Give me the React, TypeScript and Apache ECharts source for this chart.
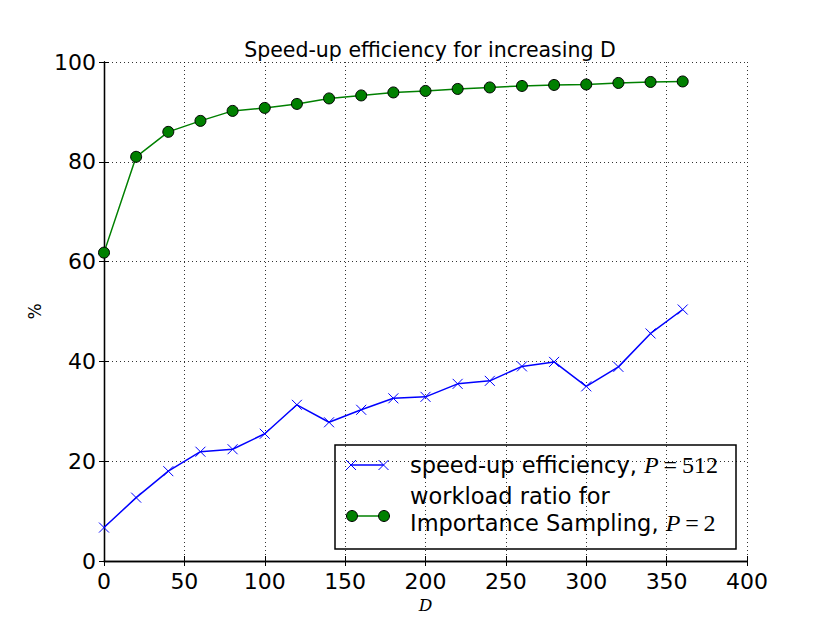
import React, { useEffect, useRef } from "react";
import * as echarts from "echarts";

const dValues = [0, 20, 40, 60, 80, 100, 120, 140, 160, 180, 200, 220, 240, 260, 280, 300, 320, 340, 360];
const speedupEfficiency = [6.7, 12.7, 18.0, 21.9, 22.4, 25.5, 31.3, 27.8, 30.3, 32.6, 32.9, 35.5, 36.1, 39.0, 39.9, 35.0, 38.9, 45.6, 50.4];
const workloadRatio = [61.8, 81.0, 86.0, 88.2, 90.2, 90.8, 91.6, 92.7, 93.3, 93.9, 94.2, 94.6, 94.9, 95.2, 95.4, 95.5, 95.8, 96.0, 96.1];
const xTicks = { min: 0, max: 400, interval: 50 };
const yTicks = { min: 0, max: 100, interval: 20 };

const SANS = "DejaVu Sans";
const SERIF = "DejaVu Serif";
const MATH = "Liberation Serif";

export default function App() {
  const ref = useRef<HTMLDivElement>(null);
  useEffect(() => {
    if (!ref.current) return;
    const chart = echarts.init(ref.current, undefined, { renderer: "svg" });
    const tickFont = { fontFamily: SANS, fontSize: 22, color: "#000" };
    const gridLine = { show: true, lineStyle: { color: "#000", width: 1, type: [1, 3] as any, opacity: 0.8 } };
    const axisLine = { show: true, lineStyle: { color: "#000", width: 1.3 } };
    const axisTick = { show: true, inside: true, length: 5, lineStyle: { color: "#000", width: 1 } };
    const crossPath = "path://M0,0L10,10M10,0L0,10";
    const legendFont = 22.5;
    const lh = 26.5;
    const rich = {
      t: { fontFamily: SANS, fontSize: legendFont, fill: "#000", lineHeight: lh },
      i: { fontFamily: MATH, fontStyle: "italic", fontSize: 24, fill: "#000", lineHeight: lh },
      m: { fontFamily: MATH, fontSize: 24, fill: "#000", lineHeight: lh },
    };
    const option: any = {
      animation: false,
      backgroundColor: "#fff",
      title: {
        text: "Speed-up efficiency for increasing D",
        left: 425,
        textAlign: "center",
        top: 34,
        textStyle: { fontFamily: SANS, fontSize: 20.5, fontWeight: "normal", color: "#000" },
      },
      grid: { left: 104, right: 83, top: 62, bottom: 62 },
      xAxis: [
        {
          type: "value",
          ...xTicks,
          position: "bottom",
          axisLine,
          axisTick,
          splitLine: gridLine,
          axisLabel: { ...tickFont, margin: 9 },
          name: "D",
          nameLocation: "middle",
          nameGap: 33,
          nameTextStyle: { fontFamily: SERIF, fontStyle: "italic", fontSize: 17, color: "#000" },
        },
        {
          type: "value",
          ...xTicks,
          position: "top",
          axisLine,
          axisTick,
          splitLine: { show: false },
          axisLabel: { show: false },
        },
      ],
      yAxis: [
        {
          type: "value",
          ...yTicks,
          position: "left",
          axisLine,
          axisTick,
          splitLine: gridLine,
          axisLabel: { ...tickFont, margin: 8 },
          name: "%",
          nameLocation: "middle",
          nameGap: 58,
          nameRotate: 90,
          nameTextStyle: { fontFamily: SANS, fontSize: 17, color: "#000" },
        },
        {
          type: "value",
          ...yTicks,
          position: "right",
          axisLine,
          axisTick,
          splitLine: { show: false },
          axisLabel: { show: false },
        },
      ],
      series: [
        {
          name: "speed-up efficiency, P=512",
          type: "line",
          xAxisIndex: 0,
          yAxisIndex: 0,
          data: dValues.map((d, i) => [d, speedupEfficiency[i]]),
          symbol: crossPath,
          symbolSize: 10,
          showAllSymbol: true,
          lineStyle: { color: "#0000ff", width: 1.5 },
          itemStyle: { color: "none", borderColor: "#0000ff", borderWidth: 1 },
          z: 3,
        },
        {
          name: "workload ratio for Importance Sampling, P=2",
          type: "line",
          xAxisIndex: 0,
          yAxisIndex: 0,
          data: dValues.map((d, i) => [d, workloadRatio[i]]),
          symbol: "circle",
          symbolSize: 11,
          showAllSymbol: true,
          lineStyle: { color: "#008000", width: 1.5 },
          itemStyle: { color: "#008000", borderColor: "#000", borderWidth: 1 },
          z: 3,
        },
      ],
      graphic: [
        {
          type: "group",
          z: 100,
          children: [
            {
              type: "rect",
              shape: { x: 335, y: 445, width: 401, height: 104 },
              style: { fill: "#fff", stroke: "#000", lineWidth: 1.5 },
            },
            {
              type: "line",
              shape: { x1: 351, y1: 465, x2: 383.5, y2: 465 },
              style: { stroke: "#0000ff", lineWidth: 1.5 },
            },
            ...[351, 383.5].flatMap((cx) => [
              { type: "line", shape: { x1: cx - 5, y1: 460, x2: cx + 5, y2: 470 }, style: { stroke: "#0000ff", lineWidth: 1 } },
              { type: "line", shape: { x1: cx - 5, y1: 470, x2: cx + 5, y2: 460 }, style: { stroke: "#0000ff", lineWidth: 1 } },
            ]),
            {
              type: "line",
              shape: { x1: 352, y1: 516, x2: 384, y2: 516 },
              style: { stroke: "#008000", lineWidth: 1.5 },
            },
            ...[352, 384].map((cx) => ({
              type: "circle",
              shape: { cx, cy: 516, r: 5.5 },
              style: { fill: "#008000", stroke: "#000", lineWidth: 1 },
            })),
            {
              type: "text",
              x: 410,
              y: 465,
              style: {
                text: "{t|speed-up efficiency, }{i|P}{m|\u2009=\u2009512}",
                fontFamily: SANS,
                fontSize: legendFont,
                fill: "#000",
                verticalAlign: "middle",
                rich,
              },
            },
            {
              type: "text",
              x: 410,
              y: 509.5,
              style: {
                text: "{t|workload ratio for}\n{t|Importance Sampling, }{i|P}{m|\u2009=\u20092}",
                fontFamily: SANS,
                fontSize: legendFont,
                fill: "#000",
                verticalAlign: "middle",
                lineHeight: lh,
                rich,
              },
            },
          ],
        },
      ],
    };
    chart.setOption(option);
    return () => chart.dispose();
  }, []);
  return <div ref={ref} style={{ position: "fixed", left: 0, top: 0, width: 830, height: 623 }} />;
}
